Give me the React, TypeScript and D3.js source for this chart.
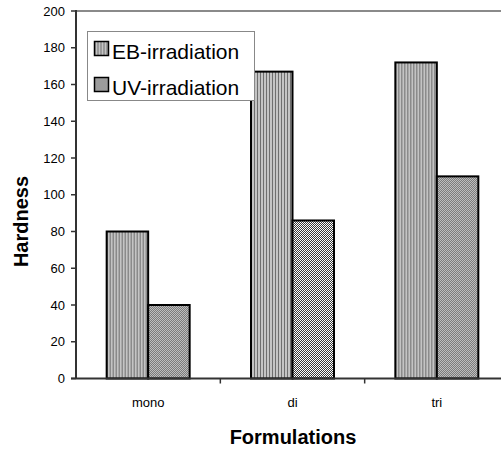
import * as d3 from "d3"

const categories = ["mono", "di", "tri"]
const seriesNames = ["EB-irradiation", "UV-irradiation"]
const ebValues = [80, 167, 172]
const uvValues = [40, 86, 110]
const yTicks = [0, 20, 40, 60, 80, 100, 120, 140, 160, 180, 200]

const W = 501
const H = 450
const margin = { top: 11, right: -8, bottom: 71.5, left: 76 }
const font = "'Liberation Sans', Arial, sans-serif"

export default function App() {
  const x0 = d3.scaleBand<string>()
    .domain(categories)
    .range([margin.left, W - margin.right])
    .paddingInner(0.425)
    .paddingOuter(0.2125)

  const x1 = d3.scaleBand<string>()
    .domain(seriesNames)
    .range([0, x0.bandwidth()])

  const y = d3.scaleLinear()
    .domain([0, 200])
    .range([H - margin.bottom, margin.top])

  const step = x0.step()
  const gap = step * x0.paddingInner() / 2
  // category boundaries (skip the first, it sits on the y axis)
  const bounds = categories.slice(1).map(c => (x0(c) ?? 0) - gap)

  const fills = ["url(#stripes)", "url(#checks)"]
  const rows = categories.map((c, i) => [ebValues[i], uvValues[i]])

  const y0 = y(0)
  const left = margin.left

  return (
    <svg width={W} height={H} style={{ position: "absolute", left: 0, top: 0 }}>
      <defs>
        <pattern id="stripes" width="3" height="4" patternUnits="userSpaceOnUse">
          <rect width="3" height="4" fill="#c4c4c4" />
          <rect x="0" width="1" height="4" fill="#6e6e6e" />
        </pattern>
        <pattern id="checks" width="2" height="2" patternUnits="userSpaceOnUse">
          <rect width="2" height="2" fill="#ffffff" />
          <rect x="0" y="0" width="1" height="1" fill="#3a3a3a" />
          <rect x="1" y="1" width="1" height="1" fill="#3a3a3a" />
        </pattern>
      </defs>
      <rect width={W} height={H} fill="#fff" />

      {/* top border of plot */}
      <line x1={left} x2={W} y1={margin.top} y2={margin.top} stroke="#8a8a8a" strokeWidth={2} />

      {/* bars */}
      {rows.map((vals, i) => (
        <g key={categories[i]} transform={`translate(${x0(categories[i])},0)`}>
          {vals.map((v, j) => (
            <rect
              key={seriesNames[j]}
              x={x1(seriesNames[j])}
              y={y(v)}
              width={x1.bandwidth()}
              height={y0 - y(v)}
              fill={fills[j]}
              stroke="#000"
              strokeWidth={2}
            />
          ))}
        </g>
      ))}

      {/* y axis */}
      <line x1={left} x2={left} y1={margin.top - 1} y2={y0} stroke="#333" strokeWidth={2} />
      {yTicks.map(t => (
        <g key={t}>
          <line x1={left - 5} x2={left} y1={y(t)} y2={y(t)} stroke="#333" strokeWidth={1.5} />
          <text x={left - 11} y={y(t)} dy="0.35em" textAnchor="end" fontFamily={font} fontSize={13} fill="#000">
            {t}
          </text>
        </g>
      ))}

      {/* x axis */}
      <line x1={left - 5} x2={W} y1={y0} y2={y0} stroke="#333" strokeWidth={2} />
      {bounds.map(b => (
        <line key={b} x1={b} x2={b} y1={y0} y2={y0 + 5} stroke="#333" strokeWidth={1.5} />
      ))}
      {categories.map(c => (
        <text
          key={c}
          x={(x0(c) ?? 0) + x0.bandwidth() / 2}
          y={y0 + 28}
          textAnchor="middle"
          fontFamily={font}
          fontSize={13}
          fill="#000"
        >
          {c}
        </text>
      ))}

      {/* axis titles */}
      <text x={293} y={444} textAnchor="middle" fontFamily={font} fontSize={20} fontWeight="bold" fill="#000">
        Formulations
      </text>
      <text
        transform="translate(28,221.5) rotate(-90)"
        textAnchor="middle"
        fontFamily={font}
        fontSize={20}
        fontWeight="bold"
        fill="#000"
      >
        Hardness
      </text>

      {/* legend */}
      <rect x={87.5} y={31.5} width={167} height={69} fill="#fff" stroke="#888" strokeWidth={1} />
      {seriesNames.map((s, j) => (
        <g key={s} transform={`translate(94.5,${41.5 + j * 36})`}>
          <rect x={0} y={0} width={14} height={14} fill={fills[j]} stroke="#000" strokeWidth={1.5} />
          <text x={17.5} y={17.5} fontFamily={font} fontSize={21} fill="#000">
            {s}
          </text>
        </g>
      ))}
    </svg>
  )
}
